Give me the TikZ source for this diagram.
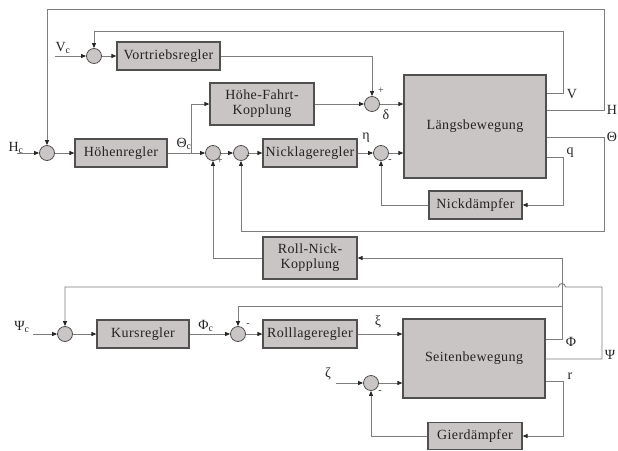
\documentclass[tikz,border=0pt]{standalone}
\usepackage{fontspec}
\setmainfont[LetterSpace=3]{Liberation Serif}
\usetikzlibrary{arrows.meta}
\definecolor{boxfill}{RGB}{201,197,196}
\definecolor{boxline}{RGB}{80,80,80}
\definecolor{wirec}{RGB}{125,125,125}
\definecolor{txt}{RGB}{35,35,35}
\begin{document}
\begin{tikzpicture}[x=1pt,y=-1pt,
  blk/.style={draw=boxline, line width=1.2pt, fill=boxfill, text=txt, align=center,
    font=\fontsize{14}{15}\selectfont, inner sep=0pt},
  sumc/.style={circle, draw=boxline, fill=boxfill, line width=0.8pt, minimum size=15pt, inner sep=0pt},
  wire/.style={draw=wirec, line width=0.9pt},
  arr/.style={wire, -{Triangle[length=5pt,width=4pt,color=black!85]}},
  lbl/.style={text=txt, font=\fontsize{14}{15}\selectfont, inner sep=0pt},
  sgn/.style={text=txt, font=\fontsize{10}{11}\selectfont, inner sep=0pt}
]
\useasboundingbox (0,0) rectangle (618,450);
% blocks
\node[blk, minimum width=103pt, minimum height=28pt] (vort) at (168.5,56) {Vortriebsregler};
\node[blk, minimum width=104pt, minimum height=42pt] (hfk) at (262,104) {Höhe-Fahrt-\\Kopplung};
\node[blk, minimum width=142pt, minimum height=103pt] (laengs) at (475,126.5) {Längsbewegung};
\node[blk, minimum width=92pt, minimum height=28pt] (hoehen) at (121,153) {Höhenregler};
\node[blk, minimum width=94pt, minimum height=28pt] (nick) at (310,153) {Nicklageregler};
\node[blk, minimum width=93pt, minimum height=28pt] (nickd) at (475.5,205) {Nickdämpfer};
\node[blk, minimum width=94pt, minimum height=42pt] (rnk) at (310,258) {Roll-Nick-\\Kopplung};
\node[blk, minimum width=92pt, minimum height=28pt] (kurs) at (143,334) {Kursregler};
\node[blk, minimum width=94pt, minimum height=28pt] (roll) at (310,334) {Rolllageregler};
\node[blk, minimum width=142pt, minimum height=79pt] (seiten) at (474,358.5) {Seitenbewegung};
\node[blk, minimum width=94pt, minimum height=27pt] (gier) at (475,436) {Gierdämpfer};
% summing points
\node[sumc] (sv) at (94,56) {};
\node[sumc] (sd) at (372,104) {};
\node[sumc] (sh) at (47,153) {};
\node[sumc] (s1) at (213,153) {};
\node[sumc] (s2) at (241,153) {};
\node[sumc] (se) at (381,153) {};
\node[sumc] (spsi) at (65,334) {};
\node[sumc] (sphi) at (238,334) {};
\node[sumc] (sz) at (371,383) {};
% input coordinates
\coordinate (vcin) at (55,56);
\coordinate (hcin) at (17,153);
\coordinate (psiin) at (33,334);
\coordinate (zin) at (336,383);
% longitudinal
\draw[arr] (vcin) -- (sv);
\draw[arr] (sv) -- (vort);
\draw[arr] (vort.east) -| (sd);
\draw[arr] (hfk.east) -- (sd);
\draw[arr] (sd) -- (laengs.west |- sd);
\draw[arr] (laengs.east |- 0,93) -- (563,93) -- (563,31) -| (sv);
\draw[arr] (laengs.east |- 0,110) -- (604,110) -- (604,9) -| (sh);
\draw[arr] (laengs.east |- 0,137) -- (604,137) -- (604,231) -| (s2);
\draw[arr] (laengs.east |- 0,157) -- (563,157) |- (nickd.east);
\draw[arr] (nickd.west) -| (se);
\draw[arr] (hcin) -- (sh);
\draw[arr] (sh) -- (hoehen);
\draw[arr] (hoehen) -- (s1);
\draw[arr] (191,153) |- (hfk.west);
\draw[arr] (s1) -- (s2);
\draw[arr] (s2) -- (nick);
\draw[arr] (nick) -- (se);
\draw[arr] (se) -- (laengs.west |- se);
\draw[arr] (rnk.west) -| (s1);
% lateral
\draw[arr] (seiten.east |- 0,339) -- (562,339) |- (rnk.east);
\draw[arr] (562,306) -| (sphi);
\draw[arr] (seiten.east |- 0,359) -- (602,359) -- (602,287) -- (565.5,287)
  arc (0:-180:3.5) -- (65,287) -- (spsi);
\draw[arr] (psiin) -- (spsi);
\draw[arr] (spsi) -- (kurs);
\draw[arr] (kurs) -- (sphi);
\draw[arr] (sphi) -- (roll);
\draw[arr] (roll) -- (seiten.west |- roll);
\draw[arr] (zin) -- (sz);
\draw[arr] (sz) -- (seiten.west |- sz);
\draw[arr] (seiten.east |- 0,381) -- (563,381) |- (gier.east);
\draw[arr] (gier.west) -| (sz);
% labels
\node[lbl] (lvc) at (63,48) {V\textsubscript{c}};
\node[lbl] (lhc) at (16,148) {H\textsubscript{c}};
\node[lbl] (lthc) at (184,144) {Θ\textsubscript{c}};
\node[lbl] (ldelta) at (386,115) {δ};
\node[sgn] (p1) at (381,91) {+};
\node[lbl] (lv) at (572,94) {V};
\node[lbl] (lh) at (612,110) {H};
\node[lbl] (lth) at (612,137) {Θ};
\node[lbl] (lq) at (570,153) {q};
\node[lbl] (leta) at (366,138) {η};
\node[sgn] (p2) at (220,161) {+};
\node[sgn] (m1) at (248,157) {-};
\node[sgn] (m2) at (390,161) {-};
\node[lbl] (lpsic) at (22,327) {Ψ\textsubscript{c}};
\node[lbl] (lphic) at (206,326) {Φ\textsubscript{c}};
\node[sgn] (m3) at (248,325) {-};
\node[lbl] (lxi) at (378,322) {ξ};
\node[lbl] (lphi) at (571,342) {Φ};
\node[lbl] (lpsi) at (610,355) {Ψ};
\node[lbl] (lr) at (570,376) {r};
\node[lbl] (lzeta) at (328,374) {ζ};
\node[sgn] (m4) at (380,392) {-};
\end{tikzpicture}
\end{document}
